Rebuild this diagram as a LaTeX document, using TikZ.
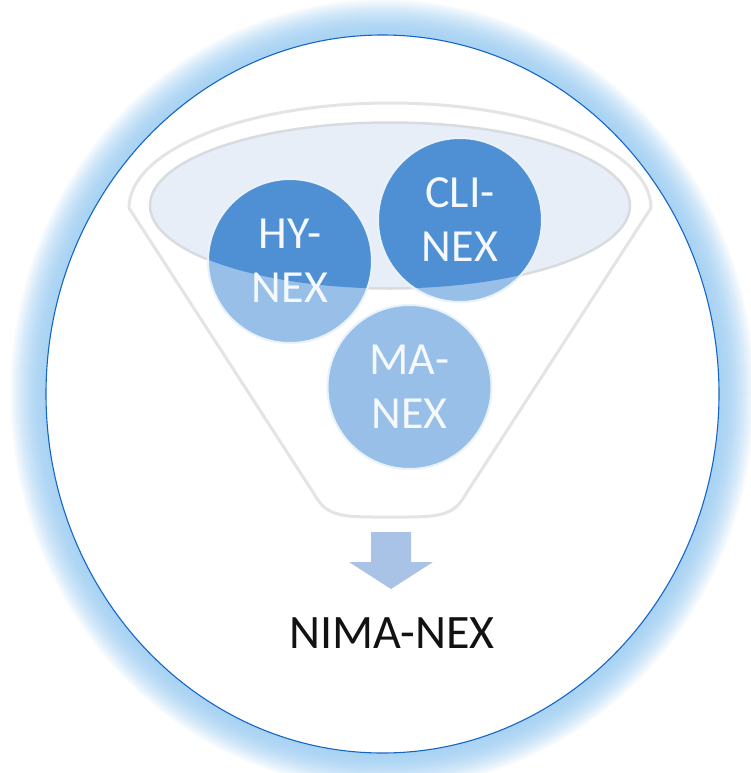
\documentclass[tikz,border=0pt]{standalone}
\usepackage{fontspec}
\setmainfont{Carlito}
\usetikzlibrary{shapes.geometric}

\definecolor{glowc}{HTML}{A9D3F3}
\definecolor{framec}{HTML}{1366C8}
\definecolor{funnelc}{HTML}{E4E4E4}
\definecolor{bowlfill}{HTML}{E8EEF8}
\definecolor{bowlline}{HTML}{D8DCE1}
\definecolor{lightc}{HTML}{97BFE8}
\definecolor{darkc}{HTML}{4F8FD4}
\definecolor{rimc}{HTML}{E9F2FB}
\definecolor{arrowc}{HTML}{A9C3E7}
\definecolor{labelc}{HTML}{F5F9FD}

\tikzset{
  ball/.style={circle, minimum size=164pt, inner sep=0pt, fill=lightc,
    draw=rimc, line width=2pt, text=labelc, align=center,
    font=\fontsize{46}{54}\selectfont,
    path picture={\fill[darkc] (bowl.center) ellipse [x radius=240pt, y radius=83pt];}},
  funnelline/.style={draw=funnelc, line width=3pt, line join=round},
}

\begin{document}
\begin{tikzpicture}[x=1pt, y=-1pt]
\useasboundingbox (0,0) rectangle (750,773);

% soft blue halo round the frame
\coordinate (fc) at (382.5,394);
\foreach \i in {36,35,...,1} {
  \pgfmathtruncatemacro\f{100*(1-(\i/37)^1.8)}
  \fill[glowc!\f!white] (fc) ellipse [x radius={336.5pt+\i pt}, y radius={359pt+\i pt}];
}
\node[ellipse, minimum width=673pt, minimum height=718pt, inner sep=0pt,
      fill=white, draw=framec, line width=1.1pt] (frame) at (fc) {};

% funnel outline
\draw[funnelline] (129,208) arc [start angle=180, end angle=360, x radius=261, y radius=105]
  -- (462,500) .. controls (450,518) and (430,517) .. (390,517)
  .. controls (350,517) and (330,518) .. (318,500) -- cycle;

% mouth of the funnel
\node[ellipse, minimum width=480pt, minimum height=166pt, inner sep=0pt,
      fill=bowlfill, draw=bowlline, line width=2.5pt] (bowl) at (390,205.5) {};

% the three sources
\node[ball] (hy)  at (290,261) {HY-\\NEX};
\node[ball] (cli) at (460,220) {CLI-\\NEX};
\node[ball] (ma)  at (409.5,387) {MA-\\NEX};

% output arrow and result
\coordinate (tip) at (391,589);
\fill[arrowc] (371,532) -- (411,532) -- (411,562) -- (433,562) -- (tip)
  -- (349,562) -- (371,562) -- cycle;
\node[anchor=base, text=black!93, font=\fontsize{48}{56}\selectfont] (out) at (392,648) {NIMA-NEX};
\end{tikzpicture}
\end{document}
